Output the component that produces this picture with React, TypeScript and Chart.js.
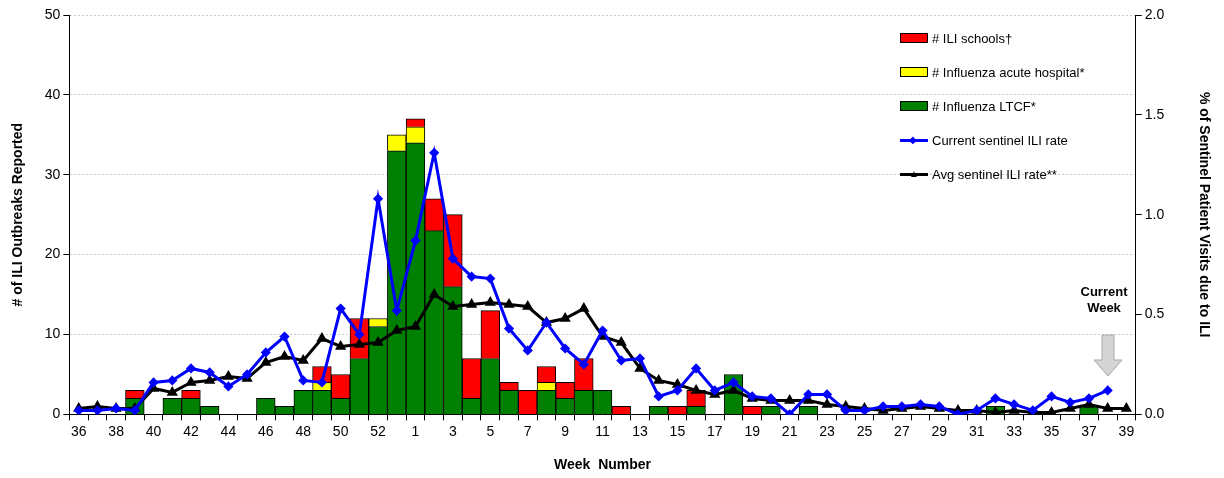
import { useEffect, useRef } from 'react';
import { Chart, registerables } from 'chart.js';

Chart.register(...registerables);

const weeks = [
  36, 37, 38, 39, 40, 41, 42, 43, 44, 45, 46, 47, 48, 49, 50, 51, 52, 53,
  1, 2, 3, 4, 5, 6, 7, 8, 9, 10, 11, 12, 13, 14, 15, 16, 17, 18, 19, 20,
  21, 22, 23, 24, 25, 26, 27, 28, 29, 30, 31, 32, 33, 34, 35, 36, 37, 38, 39,
].map(String);

const ltcf = [
  0, 0, 0, 2, 0, 2, 2, 1, 0, 0, 2, 1, 3, 3, 2, 7, 11, 33,
  34, 23, 16, 2, 7, 3, 0, 3, 2, 3, 3, 0, 0, 1, 0, 1, 0, 5, 0, 1,
  0, 1, 0, 0, 0, 0, 0, 0, 0, 0, 0, 1, 0, 0, 0, 0, 1, 0, 0,
];
const hospital = [
  0, 0, 0, 0, 0, 0, 0, 0, 0, 0, 0, 0, 0, 1, 0, 0, 1, 2,
  2, 0, 0, 0, 0, 0, 0, 1, 0, 0, 0, 0, 0, 0, 0, 0, 0, 0, 0, 0,
  0, 0, 0, 0, 0, 0, 0, 0, 0, 0, 0, 0, 0, 0, 0, 0, 0, 0, 0,
];
const schools = [
  0, 0, 0, 1, 0, 0, 1, 0, 0, 0, 0, 0, 0, 2, 3, 5, 0, 0,
  1, 4, 9, 5, 6, 1, 3, 2, 2, 4, 0, 1, 0, 0, 1, 2, 0, 0, 1, 0,
  0, 0, 0, 0, 0, 0, 0, 0, 0, 0, 0, 0, 0, 0, 0, 0, 0, 0, 0,
];
const currentRate = [
  0.02, 0.02, 0.03, 0.02, 0.16, 0.17, 0.23, 0.21, 0.14, 0.2, 0.31, 0.39, 0.17, 0.16, 0.53, 0.4, 1.08, 0.52,
  0.87, 1.31, 0.78, 0.69, 0.68, 0.43, 0.32, 0.46, 0.33, 0.25, 0.42, 0.27, 0.28, 0.09, 0.12, 0.23, 0.12, 0.16, 0.09, 0.08,
  0.0, 0.1, 0.1, 0.02, 0.02, 0.04, 0.04, 0.05, 0.04, 0.0, 0.02, 0.08, 0.05, 0.02, 0.09, 0.06, 0.08, 0.12, null,
];
const avgRate = [
  0.03, 0.04, 0.03, 0.03, 0.13, 0.11, 0.16, 0.17, 0.19, 0.18, 0.26, 0.29, 0.27, 0.38, 0.34, 0.35, 0.36, 0.42,
  0.44, 0.6, 0.54, 0.55, 0.56, 0.55, 0.54, 0.46, 0.48, 0.53, 0.39, 0.36, 0.23, 0.17, 0.15, 0.12, 0.1, 0.12, 0.08, 0.07,
  0.07, 0.07, 0.05, 0.04, 0.03, 0.02, 0.03, 0.04, 0.03, 0.02, 0.02, 0.01, 0.02, 0.01, 0.01, 0.03, 0.05, 0.03, 0.03,
];

const FONT = '"Liberation Sans", Arial, sans-serif';

const legendItems = [
  { label: '# ILI schools†', kind: 'box', color: '#ff0000' },
  { label: '# Influenza acute hospital*', kind: 'box', color: '#ffff00' },
  { label: '# Influenza LTCF*', kind: 'box', color: '#008000' },
  { label: 'Current sentinel ILI rate', kind: 'line', color: '#0000ff', mark: '◆' },
  { label: 'Avg sentinel ILI rate**', kind: 'line', color: '#000000', mark: '▲' },
];

export default function App() {
  const canvasRef = useRef<HTMLCanvasElement>(null);

  useEffect(() => {
    document.body.style.margin = '0';
    if (!canvasRef.current) return;
    const tickFont = { family: FONT, size: 14 };
    const titleFont = { family: FONT, size: 14, weight: 'bold' as const };
    const chart = new Chart(canvasRef.current, {
      type: 'bar',
      data: {
        labels: weeks,
        datasets: [
          { type: 'line', label: 'Current', data: currentRate, yAxisID: 'y1', borderColor: '#0000ff', backgroundColor: '#0000ff', borderWidth: 3, pointStyle: 'rectRot', pointRadius: 3, tension: 0, order: 0 },
          { type: 'line', label: 'Avg', data: avgRate, yAxisID: 'y1', borderColor: '#000000', backgroundColor: '#000000', borderWidth: 3, pointStyle: 'triangle', pointRadius: 3.5, tension: 0, order: 0 },
          { label: 'LTCF', data: ltcf, backgroundColor: '#008000', borderColor: '#000', borderWidth: 1, barPercentage: 1, categoryPercentage: 1, order: 1 },
          { label: 'Hospital', data: hospital, backgroundColor: '#ffff00', borderColor: '#000', borderWidth: 1, barPercentage: 1, categoryPercentage: 1, order: 1 },
          { label: 'Schools', data: schools, backgroundColor: '#ff0000', borderColor: '#000', borderWidth: 1, barPercentage: 1, categoryPercentage: 1, order: 1 },
        ] as any,
      },
      options: {
        animation: false,
        responsive: false,
        layout: { padding: { top: 15, right: 8, left: 6, bottom: 0 } },
        plugins: { legend: { display: false }, tooltip: { enabled: false } },
        scales: {
          x: {
            stacked: true,
            grid: { display: true, drawOnChartArea: false, color: '#000', tickLength: 6, offset: true },
            border: { color: '#000' },
            ticks: { autoSkip: false, maxRotation: 0, color: '#000', font: tickFont, callback: (_v: any, i: number) => (i % 2 === 0 ? weeks[i] : '') },
            title: { display: true, text: 'Week  Number', color: '#000', font: titleFont, padding: { top: 14 } },
          },
          y: {
            stacked: true, min: 0, max: 50,
            ticks: { stepSize: 10, color: '#000', font: tickFont },
            grid: { color: '#c8c8c8', tickLength: 6, tickColor: '#000' },
            border: { color: '#000', dash: [2, 2] },
            title: { display: true, text: '# of ILI Outbreaks Reported', color: '#000', font: titleFont, padding: { top: 4, bottom: 15 } },
          },
          y1: {
            position: 'right', stacked: false, min: 0, max: 2,
            ticks: { stepSize: 0.5, color: '#000', font: tickFont, callback: (v: any) => Number(v).toFixed(1) },
            grid: { drawOnChartArea: false, color: '#000', tickLength: 6 },
            border: { color: '#000' },
            title: { display: true, text: '% of Sentinel Patient Visits due to ILI', color: '#000', font: titleFont, padding: { top: 4, bottom: 28 } },
          },
        },
      },
    });
    return () => chart.destroy();
  }, []);

  return (
    <div style={{ position: 'relative', width: 1224, height: 478, fontFamily: FONT }}>
      <canvas ref={canvasRef} width={1224} height={478} />
      <div style={{ position: 'absolute', left: 900, top: 21, fontSize: 13, color: '#000' }}>
        {legendItems.map((it) => (
          <div key={it.label} style={{ display: 'flex', alignItems: 'center', height: 34 }}>
            {it.kind === 'box' ? (
              <span style={{ display: 'inline-block', width: 28, height: 10, background: it.color, border: '1px solid #000', boxSizing: 'border-box' }} />
            ) : (
              <span style={{ position: 'relative', display: 'inline-block', width: 28, height: 3, background: it.color }}>
                <span style={{ position: 'absolute', left: 9, top: -7, fontSize: 10, color: it.color, lineHeight: '16px' }}>{it.mark}</span>
              </span>
            )}
            <span style={{ marginLeft: 4 }}>{it.label}</span>
          </div>
        ))}
      </div>
      <div style={{ position: 'absolute', left: 1064, top: 284, width: 80, textAlign: 'center', fontSize: 13, fontWeight: 'bold', lineHeight: '16px' }}>
        Current<br />Week
      </div>
      <svg style={{ position: 'absolute', left: 1094, top: 334 }} width="30" height="44">
        <polygon points="8,1 20,1 20,26 28,26 14,42 0,26 8,26" fill="#d4d4d4" stroke="#a8a8a8" strokeWidth="1" />
      </svg>
    </div>
  );
}
